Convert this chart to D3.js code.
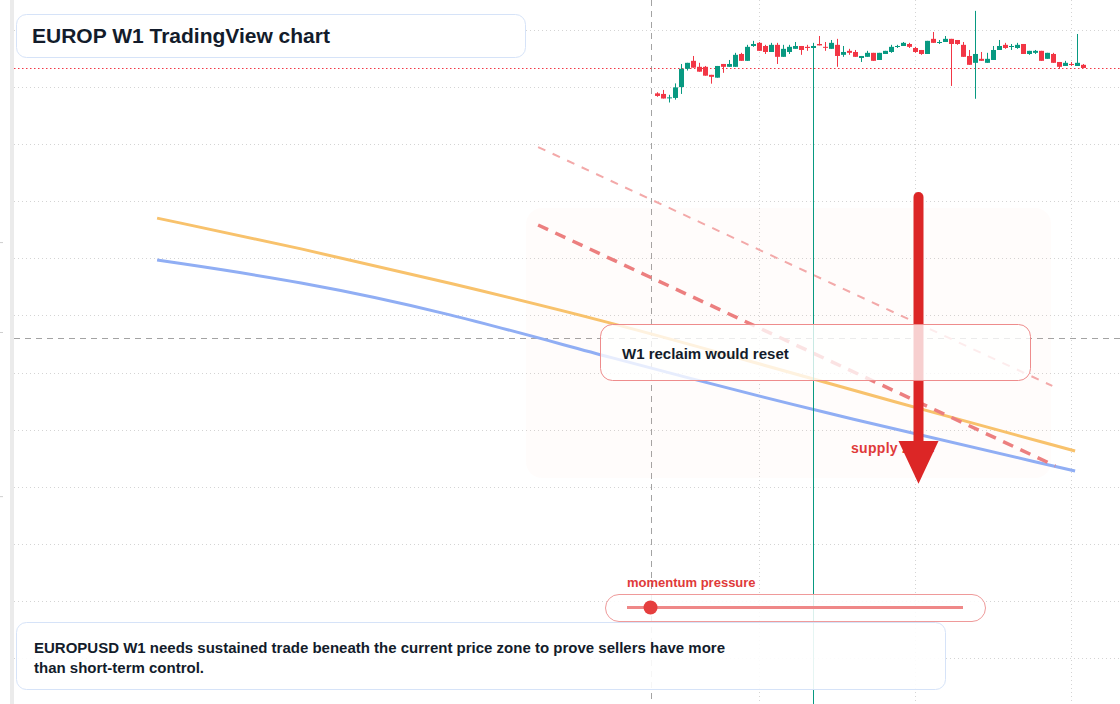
<!DOCTYPE html>
<html>
<head>
<meta charset="utf-8">
<script src="https://cdn.jsdelivr.net/npm/d3@7"></script>
<style>
  html, body { margin: 0; padding: 0; background: #fff; }
  svg { display: block; font-family: "Liberation Sans", Arial, sans-serif; }
</style>
</head>
<body>
<svg id="chart" width="1120" height="704"></svg>
<script>
// weekly candles: [open, high, low, close]
var candles = [
  [1.1178,1.1182,1.1166,1.1169],[1.1176,1.1190,1.1160,1.1160],[1.1162,1.1173,1.1146,1.1164],
  [1.1162,1.1213,1.1156,1.1199],[1.1200,1.1281,1.1176,1.1264],[1.1264,1.1285,1.1258,1.1285],
  [1.1292,1.1309,1.1268,1.1268],[1.1271,1.1285,1.1254,1.1254],[1.1271,1.1274,1.1240,1.1240],
  [1.1243,1.1243,1.1212,1.1236],[1.1233,1.1274,1.1233,1.1274],[1.1281,1.1281,1.1250,1.1271],
  [1.1271,1.1295,1.1271,1.1281],[1.1271,1.1320,1.1271,1.1313],[1.1316,1.1320,1.1292,1.1292],
  [1.1292,1.1348,1.1292,1.1341],[1.1344,1.1362,1.1341,1.1351],[1.1355,1.1358,1.1327,1.1327],
  [1.1344,1.1348,1.1316,1.1323],[1.1323,1.1355,1.1323,1.1348],[1.1348,1.1355,1.1281,1.1306],
  [1.1306,1.1348,1.1306,1.1334],[1.1323,1.1348,1.1316,1.1341],[1.1334,1.1358,1.1334,1.1344],
  [1.1344,1.1344,1.1313,1.1330],[1.1341,1.1348,1.1327,1.1337],[1.1337,1.1355,0.8800,1.1344],
  [1.1351,1.1379,1.1346,1.1346],[1.1341,1.1358,1.1327,1.1338],[1.1334,1.1365,1.1334,1.1355],
  [1.1348,1.1369,1.1271,1.1309],[1.1313,1.1344,1.1306,1.1323],[1.1327,1.1334,1.1313,1.1320],
  [1.1323,1.1330,1.1306,1.1306],[1.1302,1.1309,1.1288,1.1309],[1.1306,1.1327,1.1306,1.1320],
  [1.1320,1.1320,1.1292,1.1292],[1.1295,1.1320,1.1295,1.1320],[1.1316,1.1327,1.1316,1.1327],
  [1.1323,1.1348,1.1320,1.1341],[1.1341,1.1348,1.1337,1.1344],[1.1344,1.1358,1.1344,1.1355],
  [1.1351,1.1355,1.1337,1.1341],[1.1337,1.1341,1.1320,1.1323],[1.1330,1.1330,1.1313,1.1316],
  [1.1316,1.1362,1.1316,1.1362],[1.1369,1.1393,1.1355,1.1355],[1.1355,1.1365,1.1351,1.1358],
  [1.1358,1.1379,1.1358,1.1369],[1.1369,1.1369,1.1204,1.1351],[1.1365,1.1365,1.1348,1.1351],
  [1.1348,1.1358,1.1306,1.1306],[1.1309,1.1330,1.1278,1.1278],[1.1285,1.1467,1.1159,1.1316],
  [1.1299,1.1323,1.1292,1.1292],[1.1285,1.1320,1.1285,1.1299],[1.1295,1.1344,1.1295,1.1330],
  [1.1330,1.1365,1.1330,1.1344],[1.1348,1.1355,1.1334,1.1337],[1.1341,1.1351,1.1330,1.1344],
  [1.1337,1.1355,1.1334,1.1348],[1.1351,1.1351,1.1316,1.1316],[1.1316,1.1327,1.1313,1.1327],
  [1.1320,1.1330,1.1316,1.1327],[1.1327,1.1327,1.1292,1.1292],[1.1299,1.1320,1.1299,1.1320],
  [1.1316,1.1320,1.1285,1.1285],[1.1288,1.1288,1.1264,1.1271],[1.1274,1.1292,1.1274,1.1285],
  [1.1281,1.1288,1.1274,1.1278],[1.1274,1.1386,1.1274,1.1285],[1.1278,1.1281,1.1267,1.1267]
];

var gridPrices = [1.14, 1.12, 1.10, 1.08, 1.06, 1.04, 1.02, 1.00, 0.98, 0.96, 0.94, 0.92];
var gridBars = [17, 43, 69];
var edgeTicks = [1.0657, 1.0342, 0.9767];
var signalBar = -1;
var pivotPrice = 1.0321;

// trend curves, [bar, price]
var orangeTrend = [[-83.4,1.0741],[-59.6,1.0636],[-34.6,1.0514],[-7.4,1.0374],[15.4,1.0240],[38.3,1.0104],[69.6,0.9925]];
var blueTrend   = [[-83.4,1.0594],[-59.6,1.0520],[-34.6,1.0408],[-9.6,1.0261],[27.1,1.0061],[69.6,0.9855]];

// descending channel, [bar, price]
var channelUpper = [[-19.9,1.0990],[65.8,1.0153]];
var channelLower = [[-19.9,1.0717],[66.3,0.9873]];

// supply zone box
var zoneBars = [-21.9, 65.6];
var zonePrices = [1.0776, 0.9831];

// projected move arrow
var arrowBar = 43.5;
var arrowFrom = 1.0815;
var arrowHead = 0.9960;
var arrowTo = 0.9810;

var svg = d3.select("#chart");
var W = 1120, H = 704;

var x = d3.scaleLinear().domain([0, 71]).range([657.5, 1083.5]);
var y = d3.scaleLinear().domain([1.14, 0.92]).range([30, 658]);

// left strip
svg.append("rect").attr("x", 10).attr("y", 0).attr("width", 4).attr("height", H).attr("fill", "#ebebeb");

var edge = svg.append("g").attr("transform", "translate(3,0)")
  .call(d3.axisLeft(y).tickValues(edgeTicks).tickSize(3).tickFormat(""));
edge.select(".domain").remove();
edge.selectAll("line").attr("stroke", "#cfcfcf");

// grid
svg.append("g").selectAll("line").data(gridPrices).enter().append("line")
  .attr("x1", 14).attr("x2", W)
  .attr("y1", function(d) { return Math.round(y(d)) + 0.5; })
  .attr("y2", function(d) { return Math.round(y(d)) + 0.5; })
  .attr("stroke", "#d4d4d4").attr("stroke-dasharray", "1,3");

svg.append("g").selectAll("line").data(gridBars).enter().append("line")
  .attr("x1", function(d) { return x(d); }).attr("x2", function(d) { return x(d); })
  .attr("y1", 0).attr("y2", H)
  .attr("stroke", "#d4d4d4").attr("stroke-dasharray", "1,3");

// signal cross-hair
svg.append("line").attr("x1", x(signalBar)).attr("x2", x(signalBar)).attr("y1", 0).attr("y2", H)
  .attr("stroke", "#a3a3a3").attr("stroke-dasharray", "6,5");
svg.append("line").attr("x1", 14).attr("x2", W)
  .attr("y1", Math.round(y(pivotPrice)) + 0.5).attr("y2", Math.round(y(pivotPrice)) + 0.5)
  .attr("stroke", "#a3a3a3").attr("stroke-dasharray", "6,5");

// supply zone
svg.append("rect")
  .attr("x", x(zoneBars[0])).attr("y", y(zonePrices[0]))
  .attr("width", x(zoneBars[1]) - x(zoneBars[0]))
  .attr("height", y(zonePrices[1]) - y(zonePrices[0]))
  .attr("rx", 16).attr("fill", "#f5b08a").attr("fill-opacity", 0.035);

// trend curves
var curve = d3.line().x(function(d) { return x(d[0]); }).y(function(d) { return y(d[1]); })
  .curve(d3.curveBasis);
svg.append("path").attr("d", curve(orangeTrend)).attr("fill", "none")
  .attr("stroke", "#f8c26c").attr("stroke-width", 3);
svg.append("path").attr("d", curve(blueTrend)).attr("fill", "none")
  .attr("stroke", "#90aef4").attr("stroke-width", 3);

// channel
var straight = d3.line().x(function(d) { return x(d[0]); }).y(function(d) { return y(d[1]); });
svg.append("path").attr("d", straight(channelUpper)).attr("fill", "none")
  .attr("stroke", "#f3a9a9").attr("stroke-width", 2).attr("stroke-dasharray", "8,8");
svg.append("path").attr("d", straight(channelLower)).attr("fill", "none")
  .attr("stroke", "#ec7f7f").attr("stroke-width", 3.5).attr("stroke-dasharray", "11,8");

// current price line
var last = candles[candles.length - 1][3];
svg.append("line").attr("x1", 14).attr("x2", W)
  .attr("y1", Math.round(y(last)) + 0.5).attr("y2", Math.round(y(last)) + 0.5)
  .attr("stroke", "#f23645").attr("stroke-dasharray", "1.5,2.5");

// candles
var up = "#089981", down = "#f23645";
var cg = svg.append("g").selectAll("g").data(candles).enter().append("g");
cg.append("line")
  .attr("x1", function(d, i) { return x(i); }).attr("x2", function(d, i) { return x(i); })
  .attr("y1", function(d) { return y(d[1]); }).attr("y2", function(d) { return y(d[2]); })
  .attr("stroke", function(d) { return d[3] >= d[0] ? up : down; }).attr("stroke-width", 1);
cg.append("rect")
  .attr("x", function(d, i) { return x(i) - 2.5; })
  .attr("y", function(d) { return y(Math.max(d[0], d[3])); })
  .attr("width", 5)
  .attr("height", function(d) { return Math.max(1, Math.abs(y(d[0]) - y(d[3]))); })
  .attr("fill", function(d) { return d[3] >= d[0] ? up : down; });

// supply zone label
svg.append("text").attr("x", 851).attr("y", 453).text("supply zone")
  .attr("font-size", 14).attr("font-weight", "bold").attr("fill", "#e03a3a")
  .attr("letter-spacing", 0.3);

// arrow
svg.append("line").attr("x1", x(arrowBar)).attr("x2", x(arrowBar))
  .attr("y1", y(arrowFrom)).attr("y2", y(arrowHead) + 4)
  .attr("stroke", "#dc2626").attr("stroke-width", 10).attr("stroke-linecap", "round");
svg.append("path")
  .attr("d", "M" + (x(arrowBar) - 20) + "," + y(arrowHead) + "L" + (x(arrowBar) + 20) + "," + y(arrowHead) +
    "L" + x(arrowBar) + "," + y(arrowTo) + "Z")
  .attr("fill", "#dc2626");

// reclaim note
svg.append("rect").attr("x", 600.5).attr("y", 324.5).attr("width", 430).attr("height", 56).attr("rx", 12)
  .attr("fill", "#fff").attr("fill-opacity", 0.78).attr("stroke", "#ee8c8c").attr("stroke-width", 1);
svg.append("text").attr("x", 622).attr("y", 359).text("W1 reclaim would reset")
  .attr("font-size", 15).attr("font-weight", "bold").attr("fill", "#131c2b");

// momentum gauge
var momentum = 0.07;
svg.append("text").attr("x", 627).attr("y", 587).text("momentum pressure")
  .attr("font-size", 13).attr("font-weight", "bold").attr("fill", "#e03a3a");
svg.append("rect").attr("x", 605.5).attr("y", 594.5).attr("width", 380).attr("height", 27).attr("rx", 13.5)
  .attr("fill", "#fff").attr("fill-opacity", 0.85).attr("stroke", "#ef9a9a");
var gauge = d3.scaleLinear().domain([0, 1]).range([627, 963]);
svg.append("line").attr("x1", gauge(0)).attr("x2", gauge(1)).attr("y1", 607.5).attr("y2", 607.5)
  .attr("stroke", "#ef8888").attr("stroke-width", 3);
svg.append("circle").attr("cx", gauge(momentum)).attr("cy", 607.5).attr("r", 7).attr("fill", "#e53e3e");

// title
svg.append("rect").attr("x", 16.5).attr("y", 14.5).attr("width", 509).attr("height", 43).attr("rx", 10)
  .attr("fill", "#fff").attr("stroke", "#d6e3f8");
svg.append("text").attr("x", 32).attr("y", 43).text("EUROP W1 TradingView chart")
  .attr("font-size", 21).attr("font-weight", "bold").attr("fill", "#131c2b");

// bottom note
svg.append("rect").attr("x", 16.5).attr("y", 622.5).attr("width", 929).attr("height", 67).attr("rx", 10)
  .attr("fill", "#fff").attr("fill-opacity", 0.9).attr("stroke", "#d6e3f8");
var note = ["EUROPUSD W1 needs sustained trade beneath the current price zone to prove sellers have more",
            "than short-term control."];
svg.append("g").selectAll("text").data(note).enter().append("text")
  .attr("x", 34).attr("y", function(d, i) { return 653 + i * 20; }).text(function(d) { return d; })
  .attr("font-size", 15).attr("font-weight", "bold").attr("fill", "#131c2b");
</script>
</body>
</html>
